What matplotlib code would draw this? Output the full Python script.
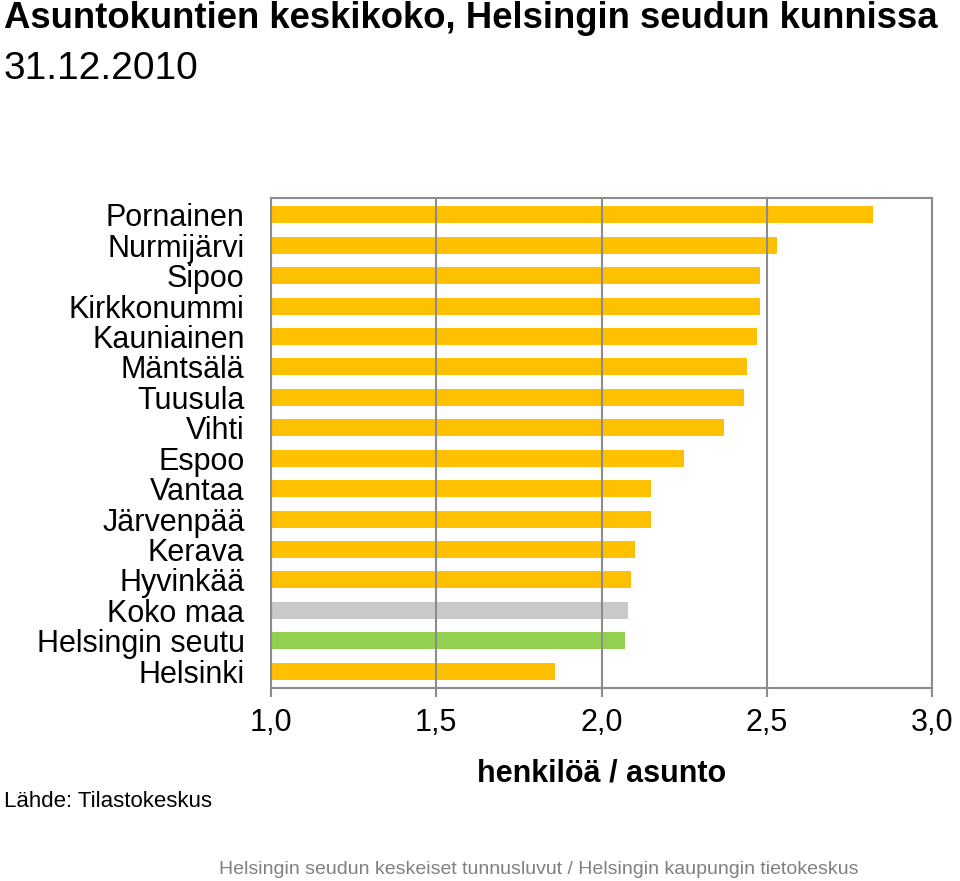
import matplotlib
matplotlib.use("Agg")
from matplotlib import pyplot as plt
from matplotlib.ticker import FuncFormatter

plt.rcParams['font.family'] = ['Liberation Sans', 'DejaVu Sans']

# data, top to bottom as in the chart
kunnat = ["Pornainen", "Nurmijärvi", "Sipoo", "Kirkkonummi", "Kauniainen",
          "Mäntsälä", "Tuusula", "Vihti", "Espoo", "Vantaa", "Järvenpää",
          "Kerava", "Hyvinkää", "Koko maa", "Helsingin seutu", "Helsinki"]
koko = [2.82, 2.53, 2.48, 2.48, 2.47, 2.44, 2.43, 2.37, 2.25, 2.15, 2.15,
        2.10, 2.09, 2.08, 2.07, 1.86]
xticks = [1.0, 1.5, 2.0, 2.5, 3.0]

YELLOW = "#FFC000"
colors = []
for k in kunnat:
    if k == "Koko maa":
        colors.append("#C9C9C9")
    elif k == "Helsingin seutu":
        colors.append("#92D050")
    else:
        colors.append(YELLOW)

fig = plt.figure(figsize=(9.6, 8.81), dpi=100)
ax = fig.add_axes([271/960, 1-688/881, (932-271)/960, (688-198)/881])

ypos = list(range(len(kunnat)))[::-1]
ax.barh(ypos, [v - 1.0 for v in koko], left=1.0, height=0.56, color=colors, zorder=1)

ax.set_xlim(1.0, 3.0)
ax.set_ylim(-0.55, len(kunnat) - 0.45)
ax.set_xticks(xticks)
ax.xaxis.set_major_formatter(FuncFormatter(lambda v, p: ("%.1f" % v).replace(".", ",")))
ax.set_yticks(ypos)
ax.set_yticklabels(kunnat)
ax.tick_params(axis='y', length=0, pad=19, labelsize=22)
ax.tick_params(axis='x', length=6.5, width=1.5, color="#8C8C8C", direction='out',
               pad=8, labelsize=22)
ax.grid(axis='x', color="#8C8C8C", linewidth=1.5, zorder=3)
ax.set_axisbelow(False)
for s in ax.spines.values():
    s.set_color("#8C8C8C")
    s.set_linewidth(1.5)

ax.set_xlabel("henkilöä / asunto", fontsize=22, fontweight='bold', labelpad=15)

fig.text(0.004, 0.979, "Asuntokuntien keskikoko, Helsingin seudun kunnissa",
         fontsize=26.3, fontweight='bold', va='center')
fig.text(0.004, 0.922, "31.12.2010", fontsize=28, va='center')
fig.text(0.004, 0.090, "Lähde: Tilastokeskus", fontsize=16, va='center')
fig.text(0.561, 0.013, "Helsingin seudun keskeiset tunnusluvut / Helsingin kaupungin tietokeskus",
         fontsize=14, color="#808080", ha='center', va='center')

fig.savefig("out.png", dpi=100)
